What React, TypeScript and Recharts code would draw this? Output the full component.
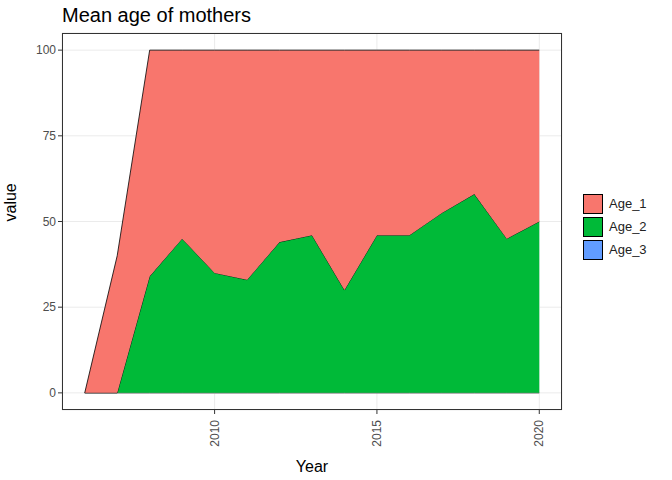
import { Area, AreaChart, CartesianGrid, XAxis, YAxis } from "recharts";

const years = [2006, 2007, 2008, 2009, 2010, 2011, 2012, 2013, 2014, 2015, 2016, 2017, 2018, 2019, 2020];
const age1 = [0, 40, 66, 55, 65, 67, 56, 54, 70, 54, 54, 47.5, 42, 55, 50];
const age2 = [0, 0, 34, 45, 35, 33, 44, 46, 30, 46, 46, 52.5, 58, 45, 50];
const age3 = [0, 0, 0, 0, 0, 0, 0, 0, 0, 0, 0, 0, 0, 0, 0];
const seriesNames = ["Age_1", "Age_2", "Age_3"];
const colors = ["#F8766D", "#00BA38", "#619CFF"];
const yTicks = [0, 25, 50, 75, 100];
const xTicks = [2010, 2015, 2020];

const data = years.map((y, i) => ({ year: y, Age_1: age1[i], Age_2: age2[i], Age_3: age3[i] }));

const XTick = ({ x, y, payload }: any) => (
  <text x={x + 4} y={y + 4} transform={`rotate(-90 ${x + 4} ${y + 4})`} textAnchor="end" fill="#4d4d4d" fontSize={12}>
    {payload.value}
  </text>
);

export default function App() {
  return (
    <div style={{ position: "absolute", left: 0, top: 0, width: 672, height: 480, background: "#fff", fontFamily: "Arial, Liberation Sans" }}>
      <div style={{ position: "absolute", left: 62, top: 4, fontSize: 20, color: "#000" }}>Mean age of mothers</div>
      <AreaChart width={672} height={480} data={data} margin={{ top: 33, right: 110, bottom: 0, left: 0 }}>
        <CartesianGrid stroke="#ebebeb" strokeWidth={1} />
        <XAxis dataKey="year" type="number" domain={[2005.3, 2020.7]} ticks={xTicks} tick={<XTick />}
          height={70} tickSize={4} stroke="#333" axisLine={false}
          label={{ value: "Year", position: "insideBottom", offset: 8, fill: "#000", fontSize: 16 }} />
        <YAxis type="number" domain={[-5, 105]} ticks={yTicks} width={62} tickSize={4} axisLine={false}
          tick={{ fill: "#4d4d4d", fontSize: 12 }} stroke="#333"
          label={{ value: "value", angle: -90, position: "insideLeft", offset: 10, fill: "#000", fontSize: 16 }} />
        <Area dataKey="Age_3" stackId="a" type="linear" fill={colors[2]} fillOpacity={1} stroke="#000" strokeWidth={0.8} isAnimationActive={false} />
        <Area dataKey="Age_2" stackId="a" type="linear" fill={colors[1]} fillOpacity={1} stroke="#000" strokeWidth={0.8} isAnimationActive={false} />
        <Area dataKey="Age_1" stackId="a" type="linear" fill={colors[0]} fillOpacity={1} stroke="#000" strokeWidth={0.8} isAnimationActive={false} />
      </AreaChart>
      <div style={{ position: "absolute", left: 62, top: 33, width: 500, height: 377, border: "1px solid #333", boxSizing: "border-box", pointerEvents: "none" }} />
      <div style={{ position: "absolute", left: 583, top: 192, fontSize: 13, color: "#222" }}>
        {seriesNames.map((n, i) => (
          <div key={n} style={{ display: "flex", alignItems: "center", height: 23 }}>
            <div style={{ width: 20, height: 20, background: colors[i], border: "1px solid #000", boxSizing: "border-box", marginRight: 6 }} />
            {n}
          </div>
        ))}
      </div>
    </div>
  );
}
